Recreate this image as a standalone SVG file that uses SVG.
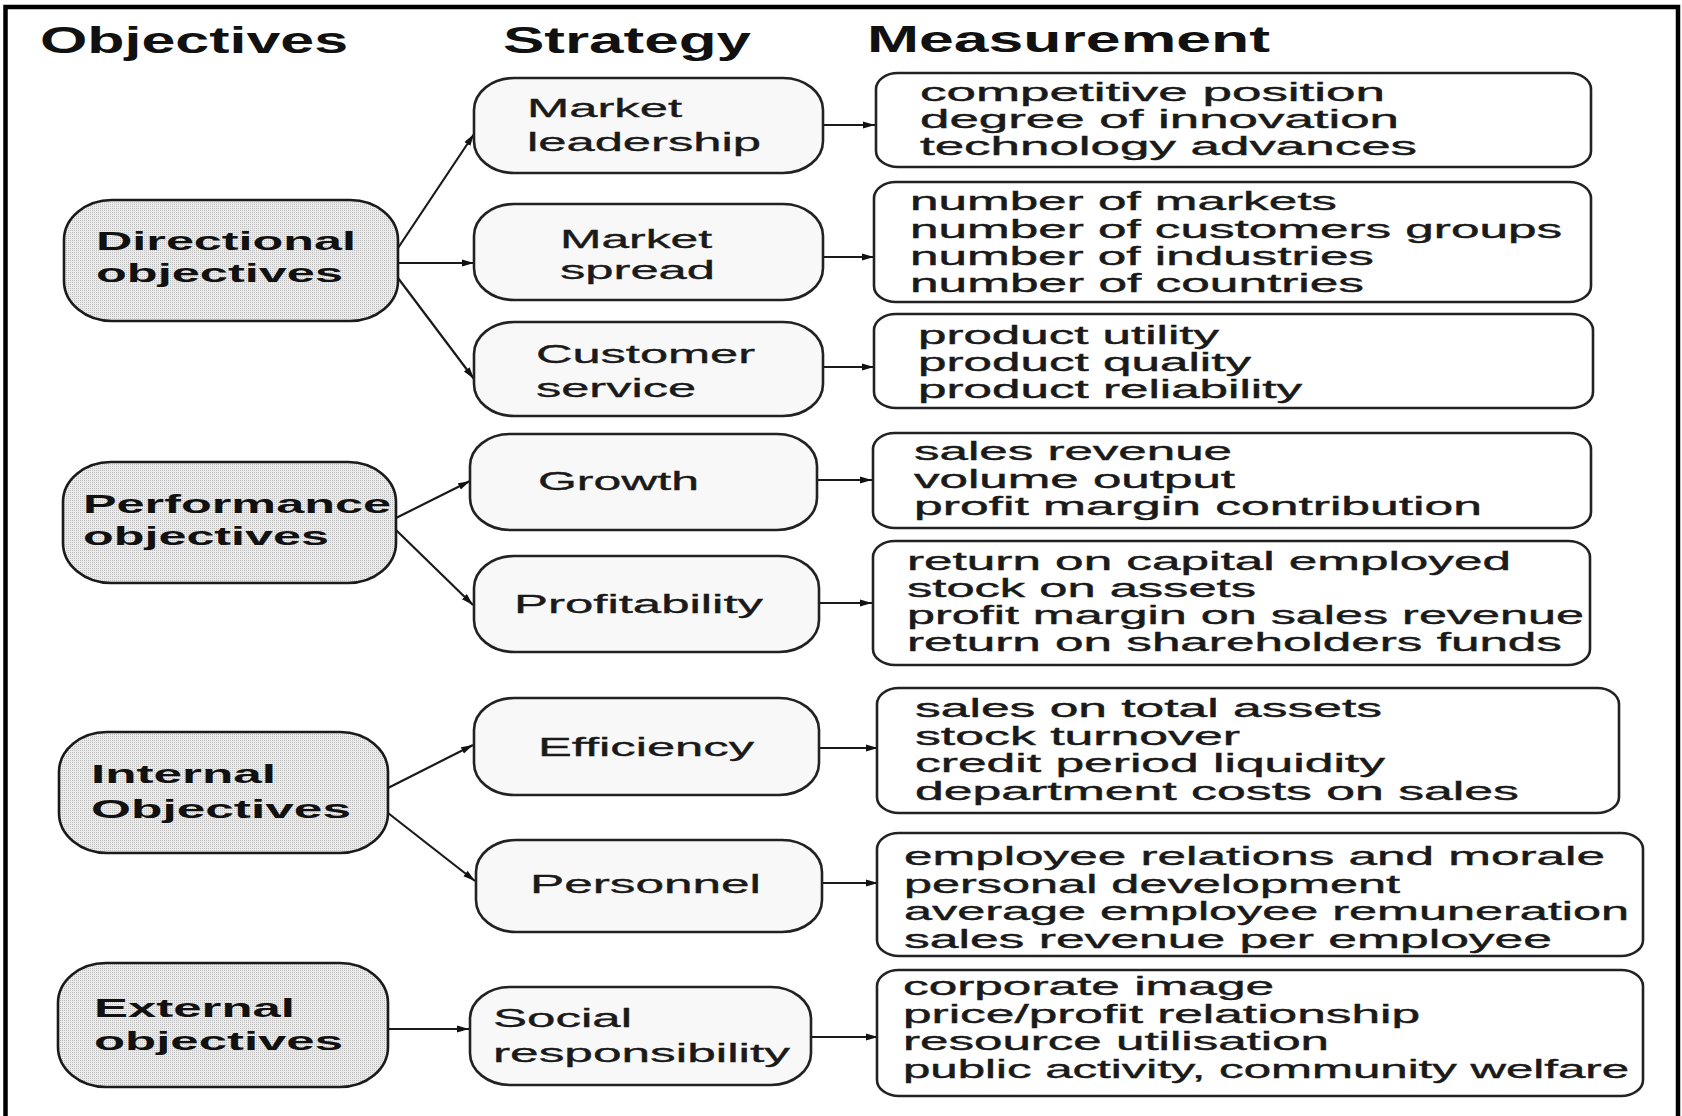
<svg xmlns="http://www.w3.org/2000/svg" width="1682" height="1116" viewBox="0 0 1682 1116">
  <defs>
    <!-- halftone screen used for the objective nodes -->
    <pattern id="screen" width="2" height="2" patternUnits="userSpaceOnUse">
      <rect width="2" height="2" fill="#ebebeb"/>
      <rect width="1" height="1" fill="#bdbdbd"/>
    </pattern>
    <marker id="head" viewBox="0 0 12 8" refX="12" refY="4" markerWidth="12" markerHeight="8" markerUnits="userSpaceOnUse" orient="auto">
      <path d="M0,0.5 L12,4 L0,7.5 Z" fill="#111"/>
    </marker>
    <style>
      .hdr { font-family: "Liberation Sans", Arial, sans-serif; font-weight: bold; font-size: 36px; fill: #111; }
      .obj rect { fill: url(#screen); stroke: #1a1a1a; stroke-width: 2.6; }
      .obj text { font-family: "Liberation Sans", Arial, sans-serif; font-weight: bold; font-size: 26px; fill: #111; }
      .str rect { fill: #f8f8f8; stroke: #222; stroke-width: 2.6; }
      .str text { font-family: "Liberation Sans", Arial, sans-serif; font-size: 26px; fill: #1a1a1a; stroke: #1a1a1a; stroke-width: 0.35; }
      .mea rect { fill: #ffffff; stroke: #222; stroke-width: 2.6; }
      .mea text { font-family: "Liberation Sans", Arial, sans-serif; font-size: 25px; fill: #1a1a1a; stroke: #1a1a1a; stroke-width: 0.4; }
      .links line { stroke: #1a1a1a; stroke-width: 2.2; marker-end: url(#head); }
    </style>
  </defs>

  <rect width="1682" height="1116" fill="#ffffff"/>
  <!-- frame (open at the bottom) -->
  <path d="M5.5,1116 V7 H1678 V1116" fill="none" stroke="#000" stroke-width="4.5"/>

  <!-- column headings -->
  <g id="headings">
    <text class="hdr" x="40" y="53" textLength="308" lengthAdjust="spacingAndGlyphs">Objectives</text>
    <text class="hdr" x="503" y="53" textLength="248" lengthAdjust="spacingAndGlyphs">Strategy</text>
    <text class="hdr" x="867" y="52" textLength="403" lengthAdjust="spacingAndGlyphs">Measurement</text>
  </g>

  <!-- connectors -->
  <g id="connectors" class="links">
    <line x1="398" y1="248" x2="474" y2="134"/>
    <line x1="398" y1="263" x2="474" y2="263"/>
    <line x1="398" y1="278" x2="474" y2="379"/>
    <line x1="396" y1="518" x2="470" y2="481"/>
    <line x1="396" y1="530" x2="473" y2="605"/>
    <line x1="388" y1="788" x2="473" y2="745"/>
    <line x1="388" y1="813" x2="475" y2="881"/>
    <line x1="388" y1="1029" x2="469" y2="1029"/>
    <line x1="823" y1="125" x2="875" y2="125"/>
    <line x1="823" y1="257" x2="874" y2="257"/>
    <line x1="823" y1="367" x2="874" y2="367"/>
    <line x1="817" y1="480" x2="872" y2="480"/>
    <line x1="819" y1="603" x2="872" y2="603"/>
    <line x1="819" y1="748" x2="878" y2="748"/>
    <line x1="822" y1="883" x2="878" y2="883"/>
    <line x1="811" y1="1037" x2="878" y2="1037"/>
  </g>

  <!-- objective nodes -->
  <g id="obj-directional" class="obj">
    <rect x="64" y="200" width="334" height="121" rx="48" ry="40"/>
    <text x="96" y="250" textLength="260" lengthAdjust="spacingAndGlyphs">Directional</text>
    <text x="96" y="282" textLength="247" lengthAdjust="spacingAndGlyphs">objectives</text>
  </g>
  <g id="obj-performance" class="obj">
    <rect x="63" y="462" width="333" height="121" rx="48" ry="40"/>
    <text x="83" y="513" textLength="308" lengthAdjust="spacingAndGlyphs">Performance</text>
    <text x="83" y="545" textLength="246" lengthAdjust="spacingAndGlyphs">objectives</text>
  </g>
  <g id="obj-internal" class="obj">
    <rect x="59" y="732" width="329" height="121" rx="48" ry="40"/>
    <text x="91" y="783" textLength="185" lengthAdjust="spacingAndGlyphs">Internal</text>
    <text x="91" y="818" textLength="260" lengthAdjust="spacingAndGlyphs">Objectives</text>
  </g>
  <g id="obj-external" class="obj">
    <rect x="58" y="963" width="330" height="124" rx="48" ry="40"/>
    <text x="94" y="1017" textLength="201" lengthAdjust="spacingAndGlyphs">External</text>
    <text x="94" y="1050" textLength="249" lengthAdjust="spacingAndGlyphs">objectives</text>
  </g>

  <!-- strategy nodes -->
  <g id="str-leadership" class="str">
    <rect x="474" y="78" width="349" height="95" rx="40" ry="32"/>
    <text x="527" y="117" textLength="155" lengthAdjust="spacingAndGlyphs">Market</text>
    <text x="527" y="151" textLength="234" lengthAdjust="spacingAndGlyphs">leadership</text>
  </g>
  <g id="str-spread" class="str">
    <rect x="474" y="204" width="349" height="96" rx="40" ry="32"/>
    <text x="560" y="248" textLength="152" lengthAdjust="spacingAndGlyphs">Market</text>
    <text x="560" y="279" textLength="155" lengthAdjust="spacingAndGlyphs">spread</text>
  </g>
  <g id="str-service" class="str">
    <rect x="474" y="322" width="349" height="94" rx="40" ry="32"/>
    <text x="536" y="363" textLength="219" lengthAdjust="spacingAndGlyphs">Customer</text>
    <text x="536" y="397" textLength="160" lengthAdjust="spacingAndGlyphs">service</text>
  </g>
  <g id="str-growth" class="str">
    <rect x="470" y="434" width="347" height="96" rx="40" ry="32"/>
    <text x="538" y="490" textLength="161" lengthAdjust="spacingAndGlyphs">Growth</text>
  </g>
  <g id="str-profitability" class="str">
    <rect x="474" y="556" width="345" height="96" rx="40" ry="32"/>
    <text x="514" y="613" textLength="249" lengthAdjust="spacingAndGlyphs">Profitability</text>
  </g>
  <g id="str-efficiency" class="str">
    <rect x="474" y="698" width="345" height="97" rx="40" ry="32"/>
    <text x="538" y="756" textLength="216" lengthAdjust="spacingAndGlyphs">Efficiency</text>
  </g>
  <g id="str-personnel" class="str">
    <rect x="476" y="840" width="346" height="92" rx="40" ry="32"/>
    <text x="530" y="893" textLength="231" lengthAdjust="spacingAndGlyphs">Personnel</text>
  </g>
  <g id="str-social" class="str">
    <rect x="470" y="987" width="341" height="98" rx="40" ry="32"/>
    <text x="493" y="1027" textLength="139" lengthAdjust="spacingAndGlyphs">Social</text>
    <text x="493" y="1062" textLength="297" lengthAdjust="spacingAndGlyphs">responsibility</text>
  </g>

  <!-- measurement boxes -->
  <g id="mea-leadership" class="mea">
    <rect x="876" y="73" width="715" height="94" rx="22" ry="16"/>
    <text x="920" y="101" textLength="465" lengthAdjust="spacingAndGlyphs">competitive position</text>
    <text x="920" y="128" textLength="479" lengthAdjust="spacingAndGlyphs">degree of innovation</text>
    <text x="920" y="155" textLength="497" lengthAdjust="spacingAndGlyphs">technology advances</text>
  </g>
  <g id="mea-spread" class="mea">
    <rect x="874" y="182" width="717" height="120" rx="22" ry="16"/>
    <text x="910" y="210" textLength="427" lengthAdjust="spacingAndGlyphs">number of markets</text>
    <text x="910" y="238" textLength="652" lengthAdjust="spacingAndGlyphs">number of customers groups</text>
    <text x="910" y="265" textLength="464" lengthAdjust="spacingAndGlyphs">number of industries</text>
    <text x="910" y="292" textLength="454" lengthAdjust="spacingAndGlyphs">number of countries</text>
  </g>
  <g id="mea-service" class="mea">
    <rect x="874" y="314" width="719" height="94" rx="22" ry="16"/>
    <text x="918" y="344" textLength="301" lengthAdjust="spacingAndGlyphs">product utility</text>
    <text x="918" y="371" textLength="333" lengthAdjust="spacingAndGlyphs">product quality</text>
    <text x="918" y="398" textLength="384" lengthAdjust="spacingAndGlyphs">product reliability</text>
  </g>
  <g id="mea-growth" class="mea">
    <rect x="873" y="433" width="718" height="95" rx="22" ry="16"/>
    <text x="914" y="460" textLength="318" lengthAdjust="spacingAndGlyphs">sales revenue</text>
    <text x="914" y="488" textLength="321" lengthAdjust="spacingAndGlyphs">volume output</text>
    <text x="914" y="515" textLength="568" lengthAdjust="spacingAndGlyphs">profit margin contribution</text>
  </g>
  <g id="mea-profitability" class="mea">
    <rect x="873" y="541" width="717" height="124" rx="22" ry="16"/>
    <text x="907" y="570" textLength="604" lengthAdjust="spacingAndGlyphs">return on capital employed</text>
    <text x="907" y="597" textLength="349" lengthAdjust="spacingAndGlyphs">stock on assets</text>
    <text x="907" y="624" textLength="677" lengthAdjust="spacingAndGlyphs">profit margin on sales revenue</text>
    <text x="907" y="651" textLength="655" lengthAdjust="spacingAndGlyphs">return on shareholders funds</text>
  </g>
  <g id="mea-efficiency" class="mea">
    <rect x="877" y="688" width="742" height="125" rx="22" ry="16"/>
    <text x="915" y="717" textLength="467" lengthAdjust="spacingAndGlyphs">sales on total assets</text>
    <text x="915" y="745" textLength="325" lengthAdjust="spacingAndGlyphs">stock turnover</text>
    <text x="915" y="772" textLength="470" lengthAdjust="spacingAndGlyphs">credit period liquidity</text>
    <text x="915" y="800" textLength="604" lengthAdjust="spacingAndGlyphs">department costs on sales</text>
  </g>
  <g id="mea-personnel" class="mea">
    <rect x="877" y="833" width="766" height="123" rx="22" ry="16"/>
    <text x="904" y="865" textLength="701" lengthAdjust="spacingAndGlyphs">employee relations and morale</text>
    <text x="904" y="893" textLength="496" lengthAdjust="spacingAndGlyphs">personal development</text>
    <text x="904" y="920" textLength="725" lengthAdjust="spacingAndGlyphs">average employee remuneration</text>
    <text x="904" y="948" textLength="648" lengthAdjust="spacingAndGlyphs">sales revenue per employee</text>
  </g>
  <g id="mea-social" class="mea">
    <rect x="877" y="970" width="766" height="126" rx="22" ry="16"/>
    <text x="903" y="995" textLength="371" lengthAdjust="spacingAndGlyphs">corporate image</text>
    <text x="903" y="1023" textLength="517" lengthAdjust="spacingAndGlyphs">price/profit relationship</text>
    <text x="903" y="1050" textLength="426" lengthAdjust="spacingAndGlyphs">resource utilisation</text>
    <text x="903" y="1078" textLength="726" lengthAdjust="spacingAndGlyphs">public activity, community welfare</text>
  </g>
</svg>
